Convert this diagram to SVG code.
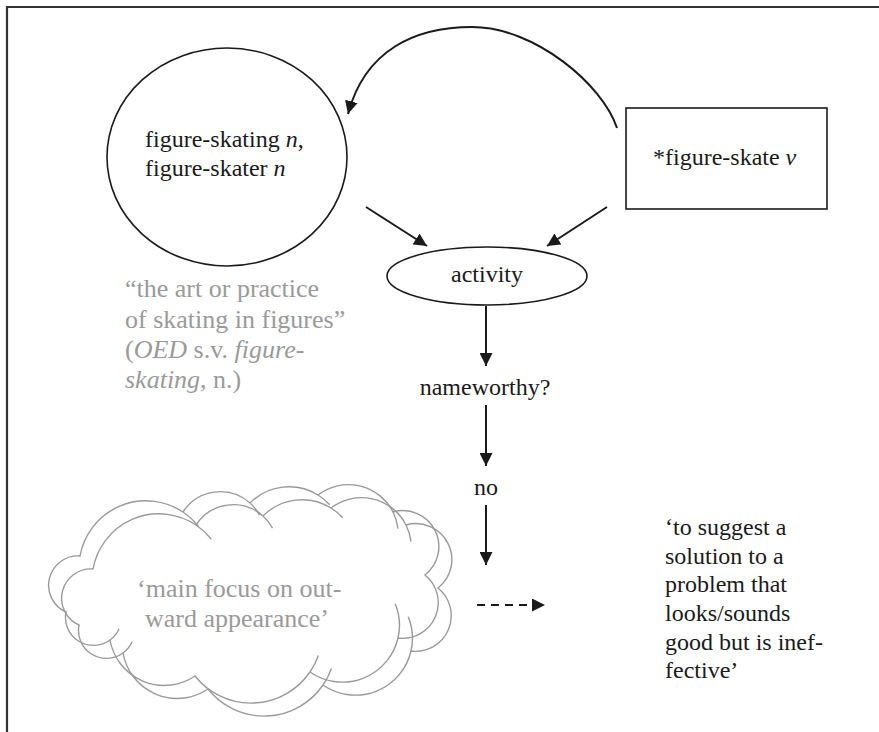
<svg xmlns="http://www.w3.org/2000/svg" width="879" height="732" viewBox="0 0 879 732">
<defs>
<style>
.t{font-family:"Liberation Serif","Times New Roman",serif;font-size:24px;fill:#1a1a1a}
.g{font-family:"Liberation Serif","Times New Roman",serif;font-size:26px;fill:#9a9a9a}
.i{font-style:italic}
.ln{stroke:#1a1a1a;stroke-width:2;fill:none}
.shape{stroke:#1a1a1a;stroke-width:1.6;fill:none}
.cloud{stroke:#9a9a9a;stroke-width:1.4;fill:none}
</style>
<marker id="ah" viewBox="0 0 13 13" refX="13" refY="6.5" markerWidth="13" markerHeight="13" markerUnits="userSpaceOnUse" orient="auto">
<path d="M0,0 L13,6.5 L0,13 z" fill="#1a1a1a"/>
</marker>
<path id="cloudShape" d="M66,612 A29.3 29.3 0 0 1 80,556 A67 67 0 0 1 183,512 A44.5 44.5 0 0 1 250,503 A55 55 0 0 1 318,495 A50 50 0 0 1 393,512 A36 36 0 0 1 425,575 A35.6 35.6 0 0 1 398,638 A57 57 0 0 1 310,672 A71.5 71.5 0 0 1 195,676 A55 55 0 0 1 110,640 A28 28 0 0 1 66,612 Z M183,512 A67 67 0 0 1 198.4,526.2 M250,503 A44.5 44.5 0 0 1 259.5,515.1 M318,495 A55 55 0 0 1 329.7,504.8 M393,512 A50 50 0 0 1 398,528.6 M395.2,603.7 A57 57 0 0 1 398,638 M318.4,655.4 A71.5 71.5 0 0 1 310,672 M119.1,628.7 A28 28 0 0 1 110,640"/>
</defs>
<rect width="879" height="732" fill="#fff"/>
<g id="frame">
<path d="M7,732 L7,7 L879,7" stroke="#333" stroke-width="2.2" fill="none"/>
</g>
<g id="connectors">
<path class="ln" d="M617,128 C603,85 535,27 472,27 C415,27 365,50 348,114" marker-end="url(#ah)"/>
<line class="ln" x1="366" y1="207" x2="427" y2="246" marker-end="url(#ah)"/>
<line class="ln" x1="607" y1="207" x2="547" y2="246" marker-end="url(#ah)"/>
<line class="ln" x1="486" y1="306" x2="486" y2="366" marker-end="url(#ah)"/>
<line class="ln" x1="486" y1="405" x2="486" y2="466" marker-end="url(#ah)"/>
<line class="ln" x1="486" y1="505" x2="486" y2="565" marker-end="url(#ah)"/>
<line class="ln" x1="477" y1="605" x2="545" y2="605" stroke-dasharray="8 6" marker-end="url(#ah)"/>
</g>
<g id="node-figure-skating">
<ellipse class="shape" cx="227" cy="157" rx="120" ry="109"/>
<text class="t" x="145" y="147">figure-skating <tspan class="i">n</tspan>,</text>
<text class="t" x="145" y="176">figure-skater <tspan class="i">n</tspan></text>
</g>
<g id="node-figure-skate">
<rect class="shape" x="626" y="108" width="201" height="101"/>
<text class="t" x="653" y="165">*figure-skate <tspan class="i">v</tspan></text>
</g>
<g id="node-activity">
<ellipse class="shape" cx="487" cy="276" rx="100" ry="29"/>
<text class="t" x="487" y="282" text-anchor="middle">activity</text>
</g>
<g id="node-nameworthy">
<text class="t" x="485" y="395" text-anchor="middle">nameworthy?</text>
</g>
<g id="node-no">
<text class="t" x="486" y="495" text-anchor="middle">no</text>
</g>
<g id="node-definition">
<text class="g" x="125" y="297">“the art or practice</text>
<text class="g" x="125" y="328">of skating in figures”</text>
<text class="g" x="125" y="358">(<tspan class="i">OED</tspan> s.v. <tspan class="i">figure-</tspan></text>
<text class="g" x="125" y="388"><tspan class="i">skating</tspan>, n.)</text>
</g>
<g id="node-cloud">
<use href="#cloudShape" class="cloud"/>
<use href="#cloudShape" class="cloud" transform="translate(13,13)"/>
<text class="g" x="137" y="597">‘main focus on out-</text>
<text class="g" x="145" y="627">ward appearance’</text>
</g>
<g id="node-meaning">
<text class="t" x="665" y="535">‘to suggest a</text>
<text class="t" x="665" y="564">solution to a</text>
<text class="t" x="665" y="592">problem that</text>
<text class="t" x="665" y="621">looks/sounds</text>
<text class="t" x="665" y="650">good but is inef-</text>
<text class="t" x="665" y="678">fective’</text>
</g>
</svg>
